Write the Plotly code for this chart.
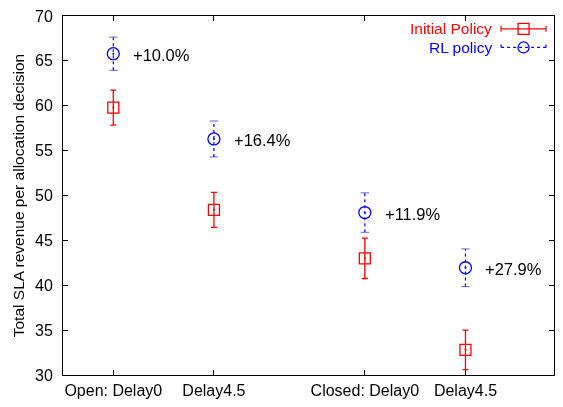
import plotly.graph_objects as go

# Scenario labels and their positions on the x axis
categories = ["Open: Delay0", "Delay4.5", "Closed: Delay0", "Delay4.5"]
x_pos = [1, 2, 3.5, 4.5]

# Mean SLA revenue and error half-widths
initial_vals = [59.8, 48.4, 43.0, 32.8]
initial_err = [1.95, 1.95, 2.25, 2.2]
rl_vals = [65.8, 56.3, 48.1, 41.95]
rl_err = [1.85, 2.0, 2.2, 2.1]
gain_labels = ["+10.0%", "+16.4%", "+11.9%", "+27.9%"]

RED = "#ff0000"
BLUE = "#0000ff"
FONT = "Liberation Sans, Arial, sans-serif"

fig = go.Figure()

# Initial policy: solid error bars with open squares
fig.add_trace(go.Scatter(
    x=x_pos, y=initial_vals, mode="markers",
    marker=dict(symbol="square-open", size=11, color=RED, line=dict(width=1.3)),
    error_y=dict(type="data", array=initial_err, color=RED, thickness=1.3, width=3),
    showlegend=False,
))

# RL policy: dotted vertical bars drawn as segments
seg_x, seg_y = [], []
for x, v, e in zip(x_pos, rl_vals, rl_err):
    seg_x += [x, x, None]
    seg_y += [v - e, v + e, None]
fig.add_trace(go.Scatter(
    x=seg_x, y=seg_y, mode="lines",
    line=dict(color=BLUE, width=1.2, dash="dot"), showlegend=False,
))
fig.add_trace(go.Scatter(
    x=x_pos + x_pos,
    y=[v - e for v, e in zip(rl_vals, rl_err)] + [v + e for v, e in zip(rl_vals, rl_err)],
    mode="markers",
    marker=dict(symbol="line-ew-open", size=6, color=BLUE, line=dict(width=1, color=BLUE)),
    opacity=0.6, showlegend=False,
))
fig.add_trace(go.Scatter(
    x=x_pos, y=rl_vals, mode="markers",
    marker=dict(symbol="circle-open", size=12, color=BLUE, line=dict(width=1.3)),
    showlegend=False,
))

# Centre dots of the point glyphs
fig.add_trace(go.Scatter(
    x=x_pos + x_pos, y=initial_vals + rl_vals, mode="markers",
    marker=dict(symbol="circle", size=2, color=[RED] * 4 + [BLUE] * 4),
    showlegend=False,
))

# Improvement labels next to the RL points
for x, v, t in zip(x_pos, rl_vals, gain_labels):
    fig.add_annotation(x=x, y=v, text=t, showarrow=False, xanchor="left",
                       xshift=18, yshift=-1, font=dict(size=16.5, color="black", family=FONT))

# Legend (top right), drawn in paper coordinates
L, R, T, B = 63, 555, 10, 375
def px(xp):
    return (xp - L) / (R - L)
def py(yp):
    return (B - yp) / (B - T)

legend_rows = [("Initial Policy", RED, "solid", 23, "rect"),
               ("RL policy", BLUE, "dot", 42, "circle")]
for text, col, dash, yrow, glyph in legend_rows:
    fig.add_annotation(x=px(494), y=py(yrow), xref="paper", yref="paper",
                       text=text, showarrow=False, xanchor="right", yanchor="middle",
                       borderpad=0,
                       font=dict(size=15.5, color=col, family=FONT))
    fig.add_shape(type="line", xref="paper", yref="paper",
                  x0=px(502), x1=px(547), y0=py(yrow), y1=py(yrow),
                  line=dict(color=col, width=1.2, dash=dash))
    for xe in (502, 547):
        fig.add_shape(type="line", xref="paper", yref="paper",
                      x0=px(xe), x1=px(xe), y0=py(yrow - 3), y1=py(yrow + 3),
                      line=dict(color=col, width=1.2, dash=dash))
    fig.add_shape(type=glyph, xref="paper", yref="paper",
                  xsizemode="pixel", ysizemode="pixel",
                  xanchor=px(524.5), yanchor=py(yrow),
                  x0=-5.5, x1=5.5, y0=-5.5, y1=5.5,
                  line=dict(color=col, width=1.3), fillcolor="rgba(0,0,0,0)")

axis_common = dict(
    showline=True, linecolor="black", linewidth=1, mirror="allticks",
    ticks="inside", ticklen=5, tickcolor="black", showgrid=False, zeroline=False,
    tickfont=dict(size=16, color="black", family=FONT),
)

fig.update_layout(
    width=563, height=407,
    margin=dict(l=L, r=563 - R, t=T, b=407 - B),
    paper_bgcolor="white", plot_bgcolor="white",
    font=dict(family=FONT, color="black"),
    xaxis=dict(range=[0.5, 5.38], tickvals=x_pos, ticktext=categories,
               ticklabelstandoff=1, **axis_common),
    yaxis=dict(range=[30, 70], tickvals=list(range(30, 71, 5)),
               ticklabelstandoff=6,
               title=dict(text="Total SLA revenue per allocation decision",
                          font=dict(size=15.5, color="black", family=FONT), standoff=6),
               **axis_common),
)

fig.write_html("out.html")
